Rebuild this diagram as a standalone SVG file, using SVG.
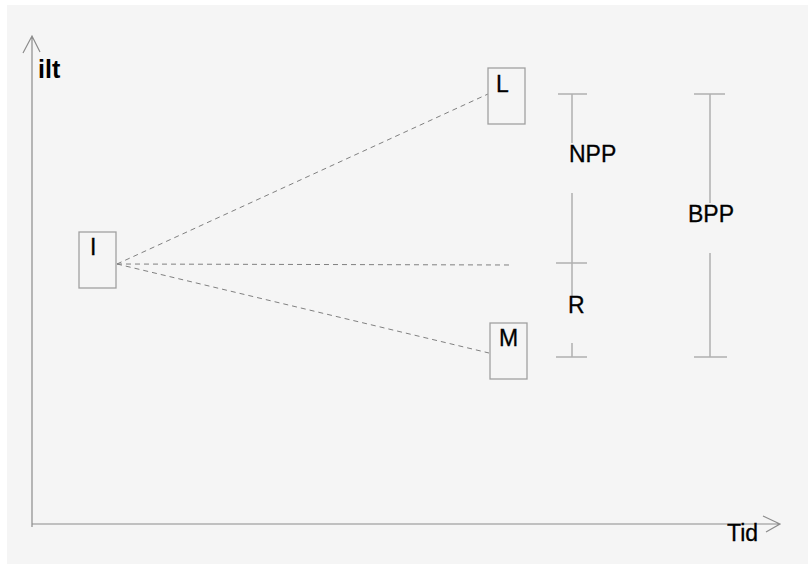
<svg xmlns="http://www.w3.org/2000/svg" width="808" height="564" viewBox="0 0 808 564">
<style>
.bg{fill:#f5f5f5}
.ax{stroke:#8c8c8c;stroke-width:1.2;fill:none}
.box{fill:none;stroke:#a0a0a0;stroke-width:1.3}
.dash{stroke:#808080;stroke-width:1;stroke-dasharray:5,4;fill:none}
.bar{stroke:#b0b0b0;stroke-width:1.5;fill:none}
text{font-family:"Liberation Sans",Arial,sans-serif;font-size:23px;fill:#000;stroke:#000;stroke-width:0.3}
.b{font-weight:bold;font-size:25px;stroke-width:0}
</style>
<rect x="0" y="0" width="808" height="564" fill="#ffffff"/>
<rect class="bg" x="7" y="5" width="801" height="559"/>
<g id="axes">
<path class="ax" d="M32,36 L32,527 M23,53 L32,36 L40,52"/>
<path class="ax" d="M32,524 L780,524 M763,516 L780,524 L766,532"/>
<text class="b" x="38" y="78">ilt</text>
<text x="727" y="541">Tid</text>
</g>
<g id="connectors">
<line class="dash" x1="117" y1="264" x2="488" y2="94"/>
<line class="dash" x1="117" y1="264" x2="512" y2="265"/>
<line class="dash" x1="117" y1="264" x2="489" y2="353"/>
</g>
<g id="node-I">
<rect class="box" x="79" y="232" width="37" height="56"/>
<text x="90" y="255">I</text>
</g>
<g id="node-L">
<rect class="box" x="488" y="68" width="37" height="56"/>
<text x="496" y="92">L</text>
</g>
<g id="node-M">
<rect class="box" x="490" y="323" width="37" height="56"/>
<text x="499" y="346">M</text>
</g>
<g id="npp">
<path class="bar" d="M558,94 L587,94 M572,94 L572,143 M572,193 L572,297 M556,263 L587,263 M572,343 L572,357 M556,357 L587,357"/>
<text x="569" y="162">NPP</text>
<text x="568" y="313">R</text>
</g>
<g id="bpp">
<path class="bar" d="M694,94 L725,94 M710,94 L710,203 M710,253 L710,357 M694,357 L727,357"/>
<text x="688" y="222">BPP</text>
</g>
</svg>
